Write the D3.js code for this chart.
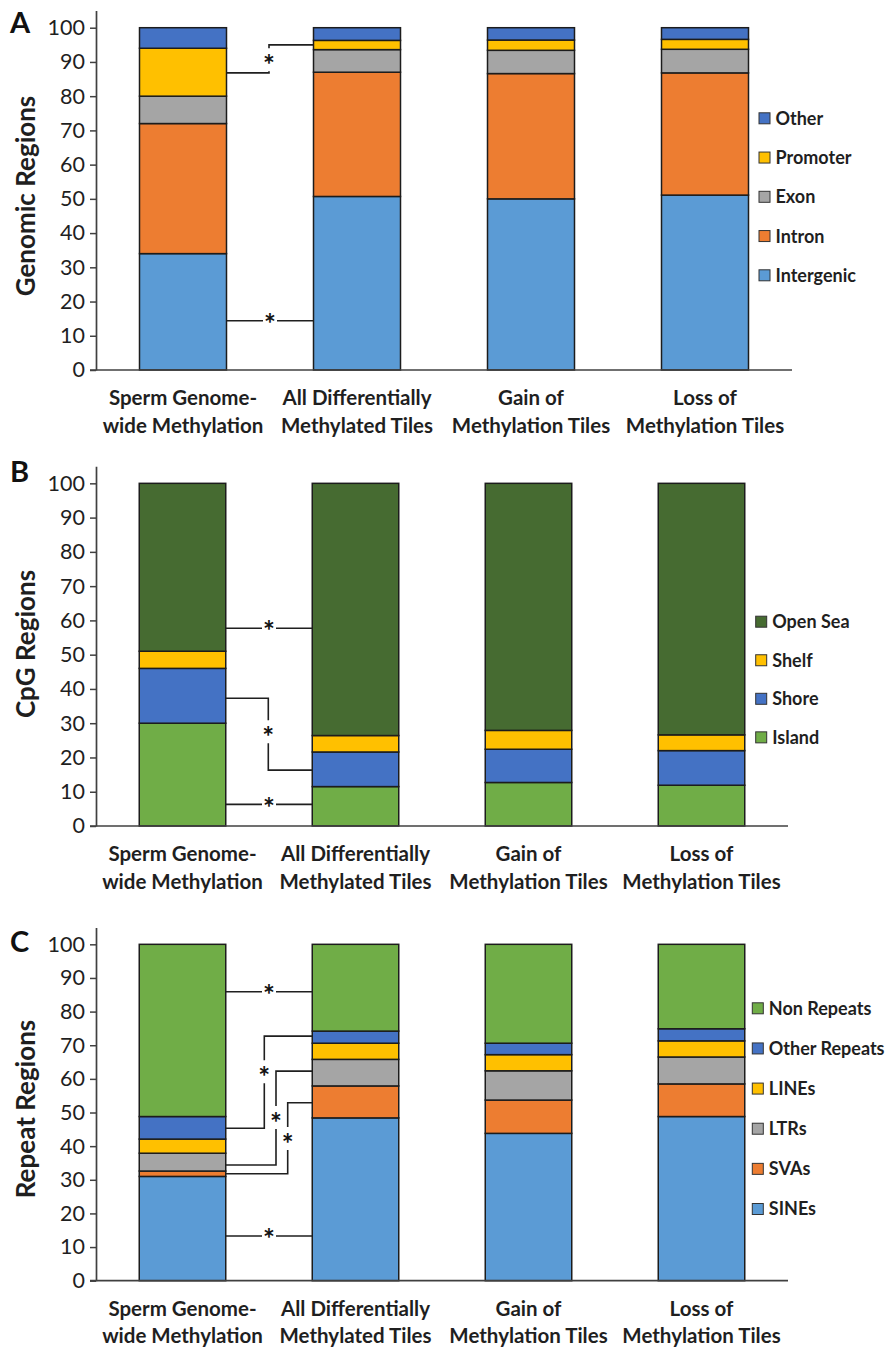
<!DOCTYPE html>
<html>
<head>
<meta charset="utf-8">
<script src="https://cdn.jsdelivr.net/npm/d3@7"></script>
<style>
  html, body { margin: 0; padding: 0; background: #fff; }
  svg { display: block; }
</style>
</head>
<body>
<svg id="chart" width="886" height="1347"></svg>
<script>
// ---- Data -------------------------------------------------------------
const categories = [
  ["Sperm Genome-", "wide Methylation"],
  ["All Differentially", "Methylated Tiles"],
  ["Gain of", "Methylation Tiles"],
  ["Loss of", "Methylation Tiles"]
];
const yTicks = [0, 10, 20, 30, 40, 50, 60, 70, 80, 90, 100];

// Panel A – genomic regions (%), stacked bottom to top
const intergenic = [34.0, 50.7, 50.0, 51.1];
const intron     = [38.0, 36.3, 36.6, 35.7];
const exon       = [8.0, 6.6, 6.8, 6.9];
const promoter   = [14.0, 2.7, 3.0, 2.9];
const otherGenomic = [6.0, 3.7, 3.6, 3.4];

// Panel B – CpG regions (%)
const island  = [30.0, 11.5, 12.7, 11.9];
const shore   = [16.0, 10.1, 9.7, 10.1];
const shelf   = [5.0, 4.8, 5.5, 4.6];
const openSea = [49.0, 73.6, 72.1, 73.4];

// Panel C – repeat regions (%)
const sines        = [31.0, 48.4, 43.8, 48.8];
const svas         = [1.6, 9.5, 9.9, 9.7];
const ltrs         = [5.3, 7.9, 8.7, 8.0];
const lines        = [4.2, 4.8, 4.8, 4.8];
const otherRepeats = [6.7, 3.6, 3.4, 3.6];
const nonRepeats   = [51.2, 25.8, 29.4, 25.1];

// Significance connectors: [value at first bar, value at second bar, asterisk value]
const sigA = [[86.8, 95.0, 89.9], [14.4, 14.4, 14.4]];
const sigB = [[57.7, 57.7, 57.7], [37.3, 16.3, 26.8], [6.3, 6.3, 6.3]];
const sigC = [[85.9, 85.9, 85.9], [45.3, 72.7, 61.4], [34.4, 62.3, 47.8], [31.8, 52.9, 41.5], [13.3, 13.3, 13.3]];

// ---- Styling ----------------------------------------------------------
const FONT = "Lato, 'Open Sans', sans-serif";
const C = {
  lightBlue: "#5B9BD5", orange: "#ED7D31", gray: "#A5A5A5",
  yellow: "#FFC000", blue: "#4472C4", green: "#70AD47", darkGreen: "#466B31"
};
const INK = "#1f1f1f";
const STAR_SIZE = 28;

const panels = [
  {
    letter: "A", letterY: 33, title: "Genomic Regions", titleY: 196,
    yBottom: 370, yTop: 10.6, xRange: [96, 792],
    series: [
      { name: "Intergenic", values: intergenic, color: C.lightBlue },
      { name: "Intron", values: intron, color: C.orange },
      { name: "Exon", values: exon, color: C.gray },
      { name: "Promoter", values: promoter, color: C.yellow },
      { name: "Other", values: otherGenomic, color: C.blue }
    ],
    legend: { x: 759, y0: 118.3, step: 39.25 },
    sig: sigA, sigX: [269, 270]
  },
  {
    letter: "B", letterY: 482, title: "CpG Regions", titleY: 644,
    yBottom: 826, yTop: 466.2, xRange: [96, 788],
    series: [
      { name: "Island", values: island, color: C.green },
      { name: "Shore", values: shore, color: C.blue },
      { name: "Shelf", values: shelf, color: C.yellow },
      { name: "Open Sea", values: openSea, color: C.darkGreen }
    ],
    legend: { x: 755.7, y0: 621.7, step: 38.55 },
    sig: sigB, sigX: [269, 268.3, 269]
  },
  {
    letter: "C", letterY: 952, title: "Repeat Regions", titleY: 1109,
    yBottom: 1280.7, yTop: 927.5, xRange: [96, 788],
    series: [
      { name: "SINEs", values: sines, color: C.lightBlue },
      { name: "SVAs", values: svas, color: C.orange },
      { name: "LTRs", values: ltrs, color: C.gray },
      { name: "LINEs", values: lines, color: C.yellow },
      { name: "Other Repeats", values: otherRepeats, color: C.blue },
      { name: "Non Repeats", values: nonRepeats, color: C.green }
    ],
    legend: { x: 752.3, y0: 1008.3, step: 40.14 },
    sig: sigC, sigX: [269, 264.3, 276, 287.7, 269]
  }
];

const svg = d3.select("#chart");

function drawPanel(p) {
  const g = svg.append("g");
  const y = d3.scaleLinear().domain([0, 105]).range([p.yBottom, p.yTop]);
  const x = d3.scaleBand().domain(d3.range(categories.length))
    .range(p.xRange).paddingInner(0.5).paddingOuter(0.25);

  // Stacked bars
  const keys = p.series.map(s => s.name);
  const rows = categories.map((c, i) => {
    const r = { idx: i };
    p.series.forEach(s => { r[s.name] = s.values[i]; });
    return r;
  });
  const stacked = d3.stack().keys(keys)(rows);
  const colorOf = d3.scaleOrdinal().domain(keys).range(p.series.map(s => s.color));

  g.selectAll("g.layer").data(stacked).join("g")
    .attr("class", "layer")
    .attr("fill", d => colorOf(d.key))
    .selectAll("rect").data(d => d).join("rect")
    .attr("x", d => x(d.data.idx))
    .attr("width", x.bandwidth())
    .attr("y", d => y(d[1]))
    .attr("height", d => y(d[0]) - y(d[1]))
    .attr("stroke", "#1c1c1c")
    .attr("stroke-width", 1.5);

  // Y axis
  const yAxis = g.append("g")
    .attr("transform", `translate(${p.xRange[0]},0)`)
    .call(d3.axisLeft(y).tickValues(yTicks).tickSize(6).tickSizeOuter(0).tickPadding(5));
  yAxis.select(".domain").attr("stroke", "#404040").attr("stroke-width", 1.7);
  yAxis.selectAll(".tick line").attr("stroke", "#404040").attr("stroke-width", 1.5);
  yAxis.selectAll(".tick text")
    .attr("font-family", FONT).attr("font-size", 21.5).attr("fill", INK);

  // X axis baseline
  g.append("line")
    .attr("x1", p.xRange[0] - 6).attr("x2", p.xRange[1])
    .attr("y1", y(0)).attr("y2", y(0))
    .attr("stroke", "#404040").attr("stroke-width", 1.7);

  // Category labels
  const cat = g.selectAll("text.cat").data(categories).join("text")
    .attr("class", "cat")
    .attr("text-anchor", "middle")
    .attr("font-family", FONT).attr("font-weight", 700).attr("font-size", 20.5)
    .attr("fill", INK);
  cat.selectAll("tspan").data((d, i) => d.map(t => ({ t, i }))).join("tspan")
    .attr("x", d => x(d.i) + x.bandwidth() / 2)
    .attr("y", (d, j) => y(0) + 35 + j * 27.5)
    .text(d => d.t);

  // Axis title
  g.append("text")
    .attr("transform", `translate(35,${p.titleY}) rotate(-90)`)
    .attr("text-anchor", "middle")
    .attr("font-family", FONT).attr("font-weight", 700).attr("font-size", 26)
    .attr("fill", INK)
    .text(p.title);

  // Panel letter
  g.append("text")
    .attr("x", 10).attr("y", p.letterY)
    .attr("font-family", FONT).attr("font-weight", 700).attr("font-size", 29)
    .attr("fill", "#111")
    .text(p.letter);

  // Legend (top of the stack first)
  const legendItems = p.series.slice().reverse();
  const lg = g.selectAll("g.legend").data(legendItems).join("g")
    .attr("class", "legend")
    .attr("transform", (d, i) => `translate(${p.legend.x},${p.legend.y0 + i * p.legend.step})`);
  lg.append("rect")
    .attr("x", 0).attr("y", -5.5).attr("width", 11).attr("height", 11)
    .attr("fill", d => d.color).attr("stroke", "#333").attr("stroke-width", 1);
  lg.append("text")
    .attr("x", 16.5).attr("y", 0).attr("dy", "0.36em")
    .attr("font-family", FONT).attr("font-weight", 700).attr("font-size", 18)
    .attr("fill", INK)
    .text(d => d.name);

  // Significance connectors between the first two bars
  const xL = x(0) + x.bandwidth();
  const xR = x(1);
  p.sig.forEach((s, k) => {
    const [v1, v2, vs] = s;
    const y1 = y(v1), y2 = y(v2), ys = y(vs);
    const xm = p.sigX[k];
    const path = d3.path();
    if (v1 === v2) {
      path.moveTo(xL, y1); path.lineTo(xm - 7, y1);
      path.moveTo(xm + 7, y1); path.lineTo(xR, y1);
    } else {
      const up = y2 < y1;
      path.moveTo(xL, y1); path.lineTo(xm, y1);
      if (up) { path.lineTo(xm, ys + 9); path.moveTo(xm, ys - 14); path.lineTo(xm, y2); }
      else { path.lineTo(xm, ys - 14); path.moveTo(xm, ys + 9); path.lineTo(xm, y2); }
      path.lineTo(xR, y2);
    }
    g.append("path").attr("d", path.toString())
      .attr("fill", "none").attr("stroke", INK).attr("stroke-width", 1.6);
    g.append("text")
      .attr("x", xm).attr("y", ys + 0.47 * STAR_SIZE)
      .attr("text-anchor", "middle")
      .attr("font-family", FONT).attr("font-weight", 700).attr("font-size", STAR_SIZE)
      .attr("fill", "#111")
      .text("*");
  });
}

panels.forEach(drawPanel);
</script>
</body>
</html>
